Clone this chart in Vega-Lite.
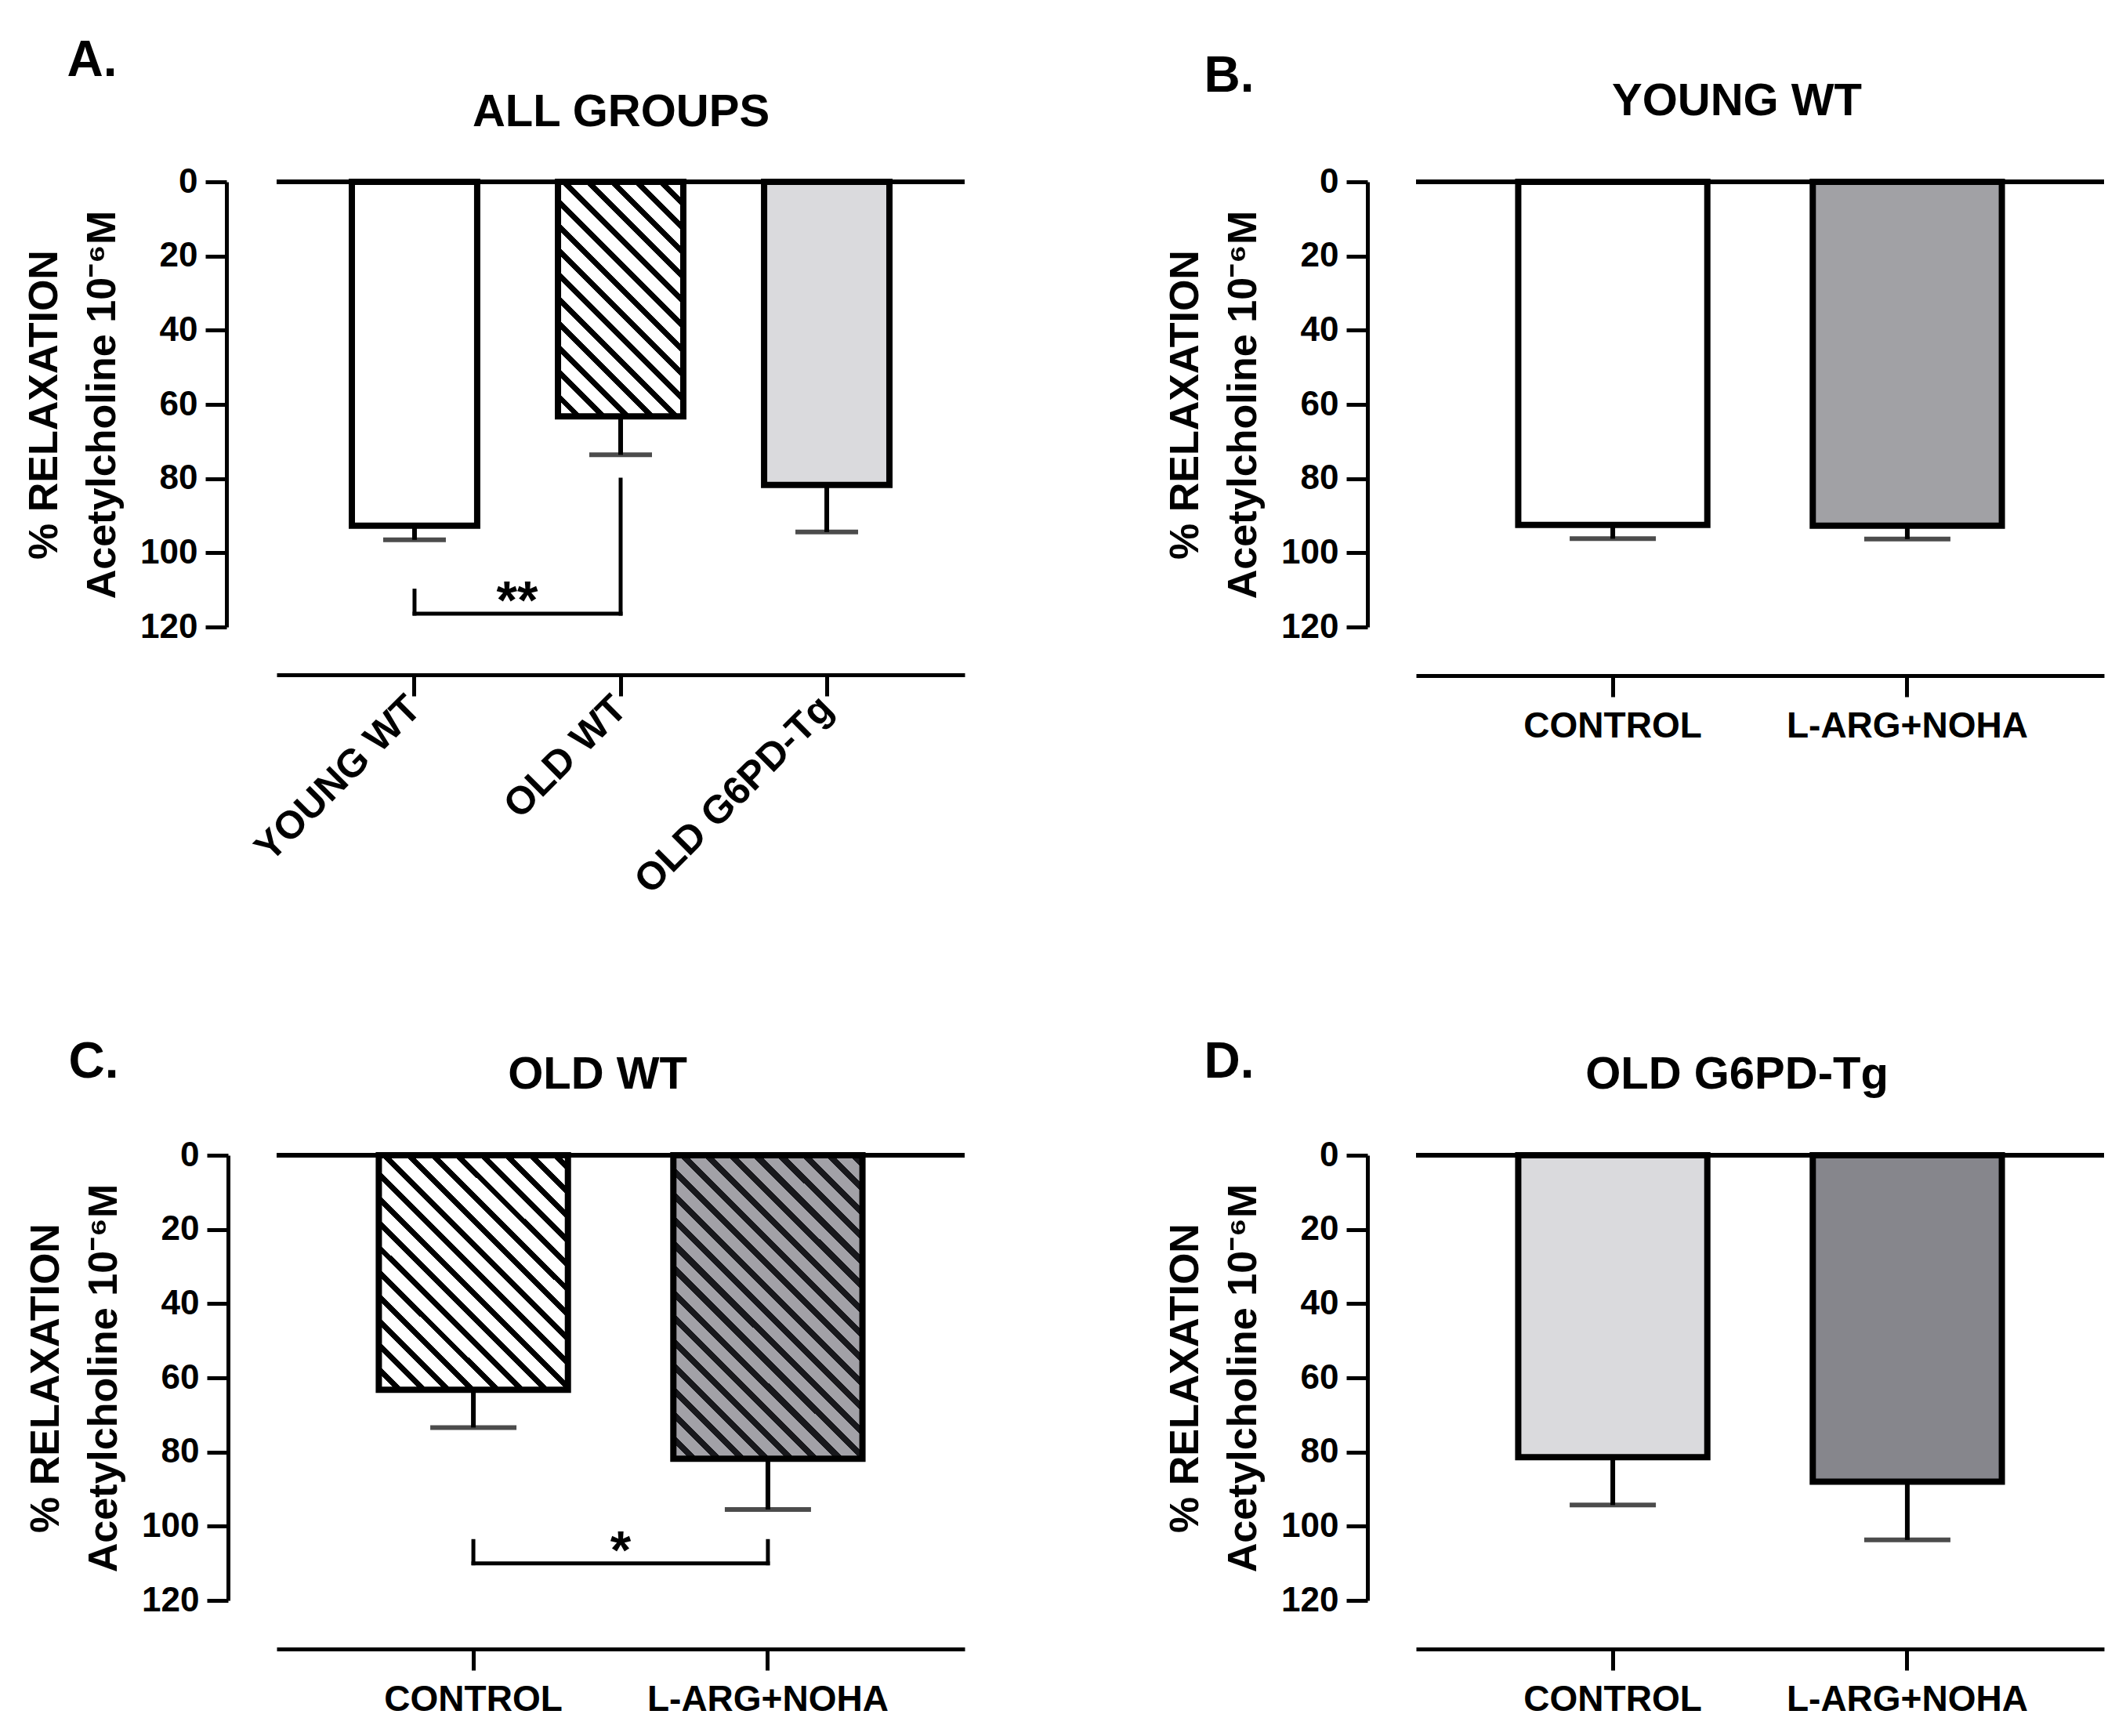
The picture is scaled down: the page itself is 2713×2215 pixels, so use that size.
{
  "$schema": "https://vega.github.io/schema/vega-lite/v6.json",
  "padding": {"left": 30, "top": 46, "right": 20, "bottom": 20},
  "background": "white",
  "datasets": {
    "bars": [
      {"panel": "A", "group": "YOUNG WT", "mean": 92.7, "hi": 96.5},
      {"panel": "A", "group": "OLD WT", "mean": 63.2, "hi": 73.6},
      {"panel": "A", "group": "OLD G6PD-Tg", "mean": 81.7, "hi": 94.4},
      {"panel": "B", "group": "CONTROL", "mean": 92.5, "hi": 96.2},
      {"panel": "B", "group": "L-ARG+NOHA", "mean": 92.7, "hi": 96.3},
      {"panel": "C", "group": "CONTROL", "mean": 63.2, "hi": 73.4},
      {"panel": "C", "group": "L-ARG+NOHA", "mean": 81.8, "hi": 95.5},
      {"panel": "D", "group": "CONTROL", "mean": 81.4, "hi": 94.3},
      {"panel": "D", "group": "L-ARG+NOHA", "mean": 88.0, "hi": 103.7}
    ],
    "brackets": [
      {"panel": "A", "from": "YOUNG WT", "to": "YOUNG WT", "y": 110.2, "y2": 116.4},
      {"panel": "A", "from": "YOUNG WT", "to": "OLD WT", "y": 116.4, "y2": 116.4},
      {"panel": "A", "from": "OLD WT", "to": "OLD WT", "y": 80.3, "y2": 116.4},
      {"panel": "C", "from": "CONTROL", "to": "CONTROL", "y": 104, "y2": 110},
      {"panel": "C", "from": "CONTROL", "to": "L-ARG+NOHA", "y": 110, "y2": 110},
      {"panel": "C", "from": "L-ARG+NOHA", "to": "L-ARG+NOHA", "y": 104, "y2": 110}
    ],
    "stars": [
      {"panel": "A", "group": "YOUNG WT", "y": 116.4, "label": "**"},
      {"panel": "C", "group": "CONTROL", "y": 110, "label": "*"}
    ],
    "baseline": [{"level": 0}]
  },
  "columns": 2,
  "bounds": "flush",
  "spacing": {"row": 674, "column": 576},
  "resolve": {"scale": {"x": "independent", "y": "independent"}},
  "concat": [
    {
      "width": 878,
      "height": 568,
      "title": {"text": "A.", "anchor": "start", "frame": "bounds", "dx": 55, "offset": -47, "baseline": "alphabetic"},
      "resolve": {"axis": {"x": "independent"}},
      "layer": [
        {
          "data": {"name": "bars"},
          "transform": [{"filter": "datum.panel === 'A'"}],
          "mark": {"type": "bar", "stroke": "#000", "strokeWidth": 8},
          "encoding": {
            "x": {"field": "group", "type": "nominal", "sort": null,
                  "scale": {"domain": ["YOUNG WT", "OLD WT", "OLD G6PD-Tg"], "paddingInner": 0.392, "paddingOuter": 0.365},
                  "axis": {"orient": "bottom", "title": null, "offset": 61, "labelAngle": -45, "labelAlign": "right", "labelBaseline": "middle", "labelFontSize": 50, "labelPadding": 8}},
            "y": {"field": "mean", "type": "quantitative",
                  "scale": {"domain": [0, 120], "reverse": true, "nice": false},
                  "axis": {"values": [0, 20, 40, 60, 80, 100, 120], "offset": 64, "title": ["% RELAXATION", "Acetylcholine 10⁻⁶M"], "titleLineHeight": 74, "titlePadding": 21}},
            "y2": {"datum": 0},
            "fill": {
              "condition": [
                {"test": "datum.group === 'OLD WT'", "value": {"gradient": "linear", "x1": 0, "y1": 1, "x2": 0.9086, "y2": -0.6986, "stops": [
                  {"offset": 0, "color": "#fff"},
                  {"offset": 0.0324, "color": "#fff"}, {"offset": 0.0324, "color": "#000"}, {"offset": 0.0476, "color": "#000"}, {"offset": 0.0476, "color": "#fff"},
                  {"offset": 0.08, "color": "#fff"}, {"offset": 0.08, "color": "#000"}, {"offset": 0.0952, "color": "#000"}, {"offset": 0.0952, "color": "#fff"},
                  {"offset": 0.1276, "color": "#fff"}, {"offset": 0.1276, "color": "#000"}, {"offset": 0.1429, "color": "#000"}, {"offset": 0.1429, "color": "#fff"},
                  {"offset": 0.1753, "color": "#fff"}, {"offset": 0.1753, "color": "#000"}, {"offset": 0.1905, "color": "#000"}, {"offset": 0.1905, "color": "#fff"},
                  {"offset": 0.2229, "color": "#fff"}, {"offset": 0.2229, "color": "#000"}, {"offset": 0.2381, "color": "#000"}, {"offset": 0.2381, "color": "#fff"},
                  {"offset": 0.2705, "color": "#fff"}, {"offset": 0.2705, "color": "#000"}, {"offset": 0.2857, "color": "#000"}, {"offset": 0.2857, "color": "#fff"},
                  {"offset": 0.3181, "color": "#fff"}, {"offset": 0.3181, "color": "#000"}, {"offset": 0.3333, "color": "#000"}, {"offset": 0.3333, "color": "#fff"},
                  {"offset": 0.3657, "color": "#fff"}, {"offset": 0.3657, "color": "#000"}, {"offset": 0.381, "color": "#000"}, {"offset": 0.381, "color": "#fff"},
                  {"offset": 0.4133, "color": "#fff"}, {"offset": 0.4133, "color": "#000"}, {"offset": 0.4286, "color": "#000"}, {"offset": 0.4286, "color": "#fff"},
                  {"offset": 0.461, "color": "#fff"}, {"offset": 0.461, "color": "#000"}, {"offset": 0.4762, "color": "#000"}, {"offset": 0.4762, "color": "#fff"},
                  {"offset": 0.5086, "color": "#fff"}, {"offset": 0.5086, "color": "#000"}, {"offset": 0.5238, "color": "#000"}, {"offset": 0.5238, "color": "#fff"},
                  {"offset": 0.5562, "color": "#fff"}, {"offset": 0.5562, "color": "#000"}, {"offset": 0.5714, "color": "#000"}, {"offset": 0.5714, "color": "#fff"},
                  {"offset": 0.6038, "color": "#fff"}, {"offset": 0.6038, "color": "#000"}, {"offset": 0.619, "color": "#000"}, {"offset": 0.619, "color": "#fff"},
                  {"offset": 0.6514, "color": "#fff"}, {"offset": 0.6514, "color": "#000"}, {"offset": 0.6667, "color": "#000"}, {"offset": 0.6667, "color": "#fff"},
                  {"offset": 0.699, "color": "#fff"}, {"offset": 0.699, "color": "#000"}, {"offset": 0.7143, "color": "#000"}, {"offset": 0.7143, "color": "#fff"},
                  {"offset": 0.7467, "color": "#fff"}, {"offset": 0.7467, "color": "#000"}, {"offset": 0.7619, "color": "#000"}, {"offset": 0.7619, "color": "#fff"},
                  {"offset": 0.7943, "color": "#fff"}, {"offset": 0.7943, "color": "#000"}, {"offset": 0.8095, "color": "#000"}, {"offset": 0.8095, "color": "#fff"},
                  {"offset": 0.8419, "color": "#fff"}, {"offset": 0.8419, "color": "#000"}, {"offset": 0.8571, "color": "#000"}, {"offset": 0.8571, "color": "#fff"},
                  {"offset": 0.8895, "color": "#fff"}, {"offset": 0.8895, "color": "#000"}, {"offset": 0.9048, "color": "#000"}, {"offset": 0.9048, "color": "#fff"},
                  {"offset": 0.9371, "color": "#fff"}, {"offset": 0.9371, "color": "#000"}, {"offset": 0.9524, "color": "#000"}, {"offset": 0.9524, "color": "#fff"},
                  {"offset": 0.9848, "color": "#fff"}, {"offset": 0.9848, "color": "#000"}, {"offset": 1, "color": "#000"}
                ]}},
                {"test": "datum.group === 'OLD G6PD-Tg'", "value": "#dadadd"}
              ],
              "value": "#ffffff"
            }
          }
        },
        {
          "data": {"name": "bars"},
          "transform": [{"filter": "datum.panel === 'A'"}],
          "mark": {"type": "rule", "color": "#000", "strokeWidth": 6},
          "encoding": {
            "x": {"field": "group", "type": "nominal", "sort": null,
                  "axis": {"orient": "top", "domain": false, "ticks": false, "labels": false, "title": "ALL GROUPS", "titleFontSize": 58, "titlePadding": 72, "titleBaseline": "alphabetic"}},
            "y": {"field": "mean", "type": "quantitative"},
            "y2": {"field": "hi"}
          }
        },
        {
          "data": {"name": "bars"},
          "transform": [{"filter": "datum.panel === 'A'"}],
          "mark": {"type": "tick", "color": "#000", "thickness": 6, "size": 80},
          "encoding": {
            "x": {"field": "group", "type": "nominal", "sort": null, "axis": null},
            "y": {"field": "hi", "type": "quantitative"}
          }
        },
        {
          "data": {"name": "baseline"},
          "mark": {"type": "rule", "color": "#000", "strokeWidth": 6},
          "encoding": {"y": {"field": "level", "type": "quantitative"}}
        },
        {
          "data": {"name": "brackets"},
          "transform": [{"filter": "datum.panel === 'A'"}],
          "mark": {"type": "rule", "color": "#000", "strokeWidth": 5, "strokeCap": "square"},
          "encoding": {
            "x": {"field": "from", "type": "nominal", "sort": null, "axis": null},
            "x2": {"field": "to"},
            "y": {"field": "y", "type": "quantitative"},
            "y2": {"field": "y2"}
          }
        },
        {
          "data": {"name": "stars"},
          "transform": [{"filter": "datum.panel === 'A'"}],
          "mark": {"type": "text", "fontSize": 68, "fontWeight": "bold", "baseline": "alphabetic", "dx": 131, "dy": 6, "color": "#000"},
          "encoding": {
            "x": {"field": "group", "type": "nominal", "sort": null, "axis": null},
            "y": {"field": "y", "type": "quantitative"},
            "text": {"field": "label"}
          }
        }
      ]
    },
    {
      "width": 878,
      "height": 568,
      "title": {"text": "B.", "anchor": "start", "frame": "bounds", "dx": 50, "offset": -81, "baseline": "alphabetic"},
      "resolve": {"axis": {"x": "independent"}},
      "layer": [
        {
          "data": {"name": "bars"},
          "transform": [{"filter": "datum.panel === 'B'"}],
          "mark": {"type": "bar", "stroke": "#000", "strokeWidth": 8},
          "encoding": {
            "x": {"field": "group", "type": "nominal", "sort": null,
                  "scale": {"domain": ["CONTROL", "L-ARG+NOHA"], "paddingInner": 0.358, "paddingOuter": 0.347},
                  "axis": {"orient": "bottom", "title": null, "offset": 62, "labelAngle": 0, "labelFontSize": 46, "labelPadding": 15}},
            "y": {"field": "mean", "type": "quantitative",
                  "scale": {"domain": [0, 120], "reverse": true, "nice": false},
                  "axis": {"values": [0, 20, 40, 60, 80, 100, 120], "offset": 62, "title": ["% RELAXATION", "Acetylcholine 10⁻⁶M"], "titleLineHeight": 74, "titlePadding": 21}},
            "y2": {"datum": 0},
            "fill": {
              "condition": [{"test": "datum.group === 'L-ARG+NOHA'", "value": "#a1a1a5"}],
              "value": "#ffffff"
            }
          }
        },
        {
          "data": {"name": "bars"},
          "transform": [{"filter": "datum.panel === 'B'"}],
          "mark": {"type": "rule", "color": "#000", "strokeWidth": 6},
          "encoding": {
            "x": {"field": "group", "type": "nominal", "sort": null,
                  "axis": {"orient": "top", "domain": false, "ticks": false, "labels": false, "title": "YOUNG WT", "titleFontSize": 58, "titlePadding": 86, "titleBaseline": "alphabetic", "titleX": 409}},
            "y": {"field": "mean", "type": "quantitative"},
            "y2": {"field": "hi"}
          }
        },
        {
          "data": {"name": "bars"},
          "transform": [{"filter": "datum.panel === 'B'"}],
          "mark": {"type": "tick", "color": "#000", "thickness": 6, "size": 110},
          "encoding": {
            "x": {"field": "group", "type": "nominal", "sort": null, "axis": null},
            "y": {"field": "hi", "type": "quantitative"}
          }
        },
        {
          "data": {"name": "baseline"},
          "mark": {"type": "rule", "color": "#000", "strokeWidth": 6},
          "encoding": {"y": {"field": "level", "type": "quantitative"}}
        }
      ]
    },
    {
      "width": 878,
      "height": 568,
      "title": {"text": "C.", "anchor": "start", "frame": "bounds", "dx": 55, "offset": -97, "baseline": "alphabetic"},
      "resolve": {"axis": {"x": "independent"}},
      "layer": [
        {
          "data": {"name": "bars"},
          "transform": [{"filter": "datum.panel === 'C'"}],
          "mark": {"type": "bar", "stroke": "#000", "strokeWidth": 8},
          "encoding": {
            "x": {"field": "group", "type": "nominal", "sort": null,
                  "scale": {"domain": ["CONTROL", "L-ARG+NOHA"], "paddingInner": 0.358, "paddingOuter": 0.347},
                  "axis": {"orient": "bottom", "title": null, "offset": 62, "labelAngle": 0, "labelFontSize": 46, "labelPadding": 15}},
            "y": {"field": "mean", "type": "quantitative",
                  "scale": {"domain": [0, 120], "reverse": true, "nice": false},
                  "axis": {"values": [0, 20, 40, 60, 80, 100, 120], "offset": 62, "title": ["% RELAXATION", "Acetylcholine 10⁻⁶M"], "titleLineHeight": 74, "titlePadding": 21}},
            "y2": {"datum": 0},
            "fill": {
              "condition": [
                {"test": "datum.group === 'CONTROL'", "value": {"gradient": "linear", "x1": 0, "y1": 1, "x2": 1.0673, "y2": -0.3246, "stops": [
                  {"offset": 0, "color": "#fff"},
                  {"offset": 0.0324, "color": "#fff"}, {"offset": 0.0324, "color": "#000"}, {"offset": 0.0476, "color": "#000"}, {"offset": 0.0476, "color": "#fff"},
                  {"offset": 0.08, "color": "#fff"}, {"offset": 0.08, "color": "#000"}, {"offset": 0.0952, "color": "#000"}, {"offset": 0.0952, "color": "#fff"},
                  {"offset": 0.1276, "color": "#fff"}, {"offset": 0.1276, "color": "#000"}, {"offset": 0.1429, "color": "#000"}, {"offset": 0.1429, "color": "#fff"},
                  {"offset": 0.1753, "color": "#fff"}, {"offset": 0.1753, "color": "#000"}, {"offset": 0.1905, "color": "#000"}, {"offset": 0.1905, "color": "#fff"},
                  {"offset": 0.2229, "color": "#fff"}, {"offset": 0.2229, "color": "#000"}, {"offset": 0.2381, "color": "#000"}, {"offset": 0.2381, "color": "#fff"},
                  {"offset": 0.2705, "color": "#fff"}, {"offset": 0.2705, "color": "#000"}, {"offset": 0.2857, "color": "#000"}, {"offset": 0.2857, "color": "#fff"},
                  {"offset": 0.3181, "color": "#fff"}, {"offset": 0.3181, "color": "#000"}, {"offset": 0.3333, "color": "#000"}, {"offset": 0.3333, "color": "#fff"},
                  {"offset": 0.3657, "color": "#fff"}, {"offset": 0.3657, "color": "#000"}, {"offset": 0.381, "color": "#000"}, {"offset": 0.381, "color": "#fff"},
                  {"offset": 0.4133, "color": "#fff"}, {"offset": 0.4133, "color": "#000"}, {"offset": 0.4286, "color": "#000"}, {"offset": 0.4286, "color": "#fff"},
                  {"offset": 0.461, "color": "#fff"}, {"offset": 0.461, "color": "#000"}, {"offset": 0.4762, "color": "#000"}, {"offset": 0.4762, "color": "#fff"},
                  {"offset": 0.5086, "color": "#fff"}, {"offset": 0.5086, "color": "#000"}, {"offset": 0.5238, "color": "#000"}, {"offset": 0.5238, "color": "#fff"},
                  {"offset": 0.5562, "color": "#fff"}, {"offset": 0.5562, "color": "#000"}, {"offset": 0.5714, "color": "#000"}, {"offset": 0.5714, "color": "#fff"},
                  {"offset": 0.6038, "color": "#fff"}, {"offset": 0.6038, "color": "#000"}, {"offset": 0.619, "color": "#000"}, {"offset": 0.619, "color": "#fff"},
                  {"offset": 0.6514, "color": "#fff"}, {"offset": 0.6514, "color": "#000"}, {"offset": 0.6667, "color": "#000"}, {"offset": 0.6667, "color": "#fff"},
                  {"offset": 0.699, "color": "#fff"}, {"offset": 0.699, "color": "#000"}, {"offset": 0.7143, "color": "#000"}, {"offset": 0.7143, "color": "#fff"},
                  {"offset": 0.7467, "color": "#fff"}, {"offset": 0.7467, "color": "#000"}, {"offset": 0.7619, "color": "#000"}, {"offset": 0.7619, "color": "#fff"},
                  {"offset": 0.7943, "color": "#fff"}, {"offset": 0.7943, "color": "#000"}, {"offset": 0.8095, "color": "#000"}, {"offset": 0.8095, "color": "#fff"},
                  {"offset": 0.8419, "color": "#fff"}, {"offset": 0.8419, "color": "#000"}, {"offset": 0.8571, "color": "#000"}, {"offset": 0.8571, "color": "#fff"},
                  {"offset": 0.8895, "color": "#fff"}, {"offset": 0.8895, "color": "#000"}, {"offset": 0.9048, "color": "#000"}, {"offset": 0.9048, "color": "#fff"},
                  {"offset": 0.9371, "color": "#fff"}, {"offset": 0.9371, "color": "#000"}, {"offset": 0.9524, "color": "#000"}, {"offset": 0.9524, "color": "#fff"},
                  {"offset": 0.9848, "color": "#fff"}, {"offset": 0.9848, "color": "#000"}, {"offset": 1, "color": "#000"}
                ]}},
                {"test": "datum.group === 'L-ARG+NOHA'", "value": {"gradient": "linear", "x1": 0, "y1": 1, "x2": 0.757, "y2": -0.2162, "stops": [
                  {"offset": 0, "color": "#a2a1a7"},
                  {"offset": 0.0305, "color": "#a2a1a7"}, {"offset": 0.0305, "color": "#18181c"}, {"offset": 0.0476, "color": "#18181c"}, {"offset": 0.0476, "color": "#a2a1a7"},
                  {"offset": 0.0781, "color": "#a2a1a7"}, {"offset": 0.0781, "color": "#18181c"}, {"offset": 0.0952, "color": "#18181c"}, {"offset": 0.0952, "color": "#a2a1a7"},
                  {"offset": 0.1257, "color": "#a2a1a7"}, {"offset": 0.1257, "color": "#18181c"}, {"offset": 0.1429, "color": "#18181c"}, {"offset": 0.1429, "color": "#a2a1a7"},
                  {"offset": 0.1733, "color": "#a2a1a7"}, {"offset": 0.1733, "color": "#18181c"}, {"offset": 0.1905, "color": "#18181c"}, {"offset": 0.1905, "color": "#a2a1a7"},
                  {"offset": 0.221, "color": "#a2a1a7"}, {"offset": 0.221, "color": "#18181c"}, {"offset": 0.2381, "color": "#18181c"}, {"offset": 0.2381, "color": "#a2a1a7"},
                  {"offset": 0.2686, "color": "#a2a1a7"}, {"offset": 0.2686, "color": "#18181c"}, {"offset": 0.2857, "color": "#18181c"}, {"offset": 0.2857, "color": "#a2a1a7"},
                  {"offset": 0.3162, "color": "#a2a1a7"}, {"offset": 0.3162, "color": "#18181c"}, {"offset": 0.3333, "color": "#18181c"}, {"offset": 0.3333, "color": "#a2a1a7"},
                  {"offset": 0.3638, "color": "#a2a1a7"}, {"offset": 0.3638, "color": "#18181c"}, {"offset": 0.381, "color": "#18181c"}, {"offset": 0.381, "color": "#a2a1a7"},
                  {"offset": 0.4114, "color": "#a2a1a7"}, {"offset": 0.4114, "color": "#18181c"}, {"offset": 0.4286, "color": "#18181c"}, {"offset": 0.4286, "color": "#a2a1a7"},
                  {"offset": 0.4591, "color": "#a2a1a7"}, {"offset": 0.4591, "color": "#18181c"}, {"offset": 0.4762, "color": "#18181c"}, {"offset": 0.4762, "color": "#a2a1a7"},
                  {"offset": 0.5067, "color": "#a2a1a7"}, {"offset": 0.5067, "color": "#18181c"}, {"offset": 0.5238, "color": "#18181c"}, {"offset": 0.5238, "color": "#a2a1a7"},
                  {"offset": 0.5543, "color": "#a2a1a7"}, {"offset": 0.5543, "color": "#18181c"}, {"offset": 0.5714, "color": "#18181c"}, {"offset": 0.5714, "color": "#a2a1a7"},
                  {"offset": 0.6019, "color": "#a2a1a7"}, {"offset": 0.6019, "color": "#18181c"}, {"offset": 0.619, "color": "#18181c"}, {"offset": 0.619, "color": "#a2a1a7"},
                  {"offset": 0.6495, "color": "#a2a1a7"}, {"offset": 0.6495, "color": "#18181c"}, {"offset": 0.6667, "color": "#18181c"}, {"offset": 0.6667, "color": "#a2a1a7"},
                  {"offset": 0.6971, "color": "#a2a1a7"}, {"offset": 0.6971, "color": "#18181c"}, {"offset": 0.7143, "color": "#18181c"}, {"offset": 0.7143, "color": "#a2a1a7"},
                  {"offset": 0.7448, "color": "#a2a1a7"}, {"offset": 0.7448, "color": "#18181c"}, {"offset": 0.7619, "color": "#18181c"}, {"offset": 0.7619, "color": "#a2a1a7"},
                  {"offset": 0.7924, "color": "#a2a1a7"}, {"offset": 0.7924, "color": "#18181c"}, {"offset": 0.8095, "color": "#18181c"}, {"offset": 0.8095, "color": "#a2a1a7"},
                  {"offset": 0.84, "color": "#a2a1a7"}, {"offset": 0.84, "color": "#18181c"}, {"offset": 0.8571, "color": "#18181c"}, {"offset": 0.8571, "color": "#a2a1a7"},
                  {"offset": 0.8876, "color": "#a2a1a7"}, {"offset": 0.8876, "color": "#18181c"}, {"offset": 0.9048, "color": "#18181c"}, {"offset": 0.9048, "color": "#a2a1a7"},
                  {"offset": 0.9352, "color": "#a2a1a7"}, {"offset": 0.9352, "color": "#18181c"}, {"offset": 0.9524, "color": "#18181c"}, {"offset": 0.9524, "color": "#a2a1a7"},
                  {"offset": 0.9829, "color": "#a2a1a7"}, {"offset": 0.9829, "color": "#18181c"}, {"offset": 1, "color": "#18181c"}
                ]}}
              ],
              "value": "#ffffff"
            }
          }
        },
        {
          "data": {"name": "bars"},
          "transform": [{"filter": "datum.panel === 'C'"}],
          "mark": {"type": "rule", "color": "#000", "strokeWidth": 6},
          "encoding": {
            "x": {"field": "group", "type": "nominal", "sort": null,
                  "axis": {"orient": "top", "domain": false, "ticks": false, "labels": false, "title": "OLD WT", "titleFontSize": 58, "titlePadding": 86, "titleBaseline": "alphabetic", "titleX": 409}},
            "y": {"field": "mean", "type": "quantitative"},
            "y2": {"field": "hi"}
          }
        },
        {
          "data": {"name": "bars"},
          "transform": [{"filter": "datum.panel === 'C'"}],
          "mark": {"type": "tick", "color": "#000", "thickness": 6, "size": 110},
          "encoding": {
            "x": {"field": "group", "type": "nominal", "sort": null, "axis": null},
            "y": {"field": "hi", "type": "quantitative"}
          }
        },
        {
          "data": {"name": "baseline"},
          "mark": {"type": "rule", "color": "#000", "strokeWidth": 6},
          "encoding": {"y": {"field": "level", "type": "quantitative"}}
        },
        {
          "data": {"name": "brackets"},
          "transform": [{"filter": "datum.panel === 'C'"}],
          "mark": {"type": "rule", "color": "#000", "strokeWidth": 5, "strokeCap": "square"},
          "encoding": {
            "x": {"field": "from", "type": "nominal", "sort": null, "axis": null},
            "x2": {"field": "to"},
            "y": {"field": "y", "type": "quantitative"},
            "y2": {"field": "y2"}
          }
        },
        {
          "data": {"name": "stars"},
          "transform": [{"filter": "datum.panel === 'C'"}],
          "mark": {"type": "text", "fontSize": 68, "fontWeight": "bold", "baseline": "alphabetic", "dx": 188, "dy": 6, "color": "#000"},
          "encoding": {
            "x": {"field": "group", "type": "nominal", "sort": null, "axis": null},
            "y": {"field": "y", "type": "quantitative"},
            "text": {"field": "label"}
          }
        }
      ]
    },
    {
      "width": 878,
      "height": 568,
      "title": {"text": "D.", "anchor": "start", "frame": "bounds", "dx": 50, "offset": -97, "baseline": "alphabetic"},
      "resolve": {"axis": {"x": "independent"}},
      "layer": [
        {
          "data": {"name": "bars"},
          "transform": [{"filter": "datum.panel === 'D'"}],
          "mark": {"type": "bar", "stroke": "#000", "strokeWidth": 8},
          "encoding": {
            "x": {"field": "group", "type": "nominal", "sort": null,
                  "scale": {"domain": ["CONTROL", "L-ARG+NOHA"], "paddingInner": 0.358, "paddingOuter": 0.347},
                  "axis": {"orient": "bottom", "title": null, "offset": 62, "labelAngle": 0, "labelFontSize": 46, "labelPadding": 15}},
            "y": {"field": "mean", "type": "quantitative",
                  "scale": {"domain": [0, 120], "reverse": true, "nice": false},
                  "axis": {"values": [0, 20, 40, 60, 80, 100, 120], "offset": 62, "title": ["% RELAXATION", "Acetylcholine 10⁻⁶M"], "titleLineHeight": 74, "titlePadding": 21}},
            "y2": {"datum": 0},
            "fill": {
              "condition": [{"test": "datum.group === 'L-ARG+NOHA'", "value": "#86868c"}],
              "value": "#dadadd"
            }
          }
        },
        {
          "data": {"name": "bars"},
          "transform": [{"filter": "datum.panel === 'D'"}],
          "mark": {"type": "rule", "color": "#000", "strokeWidth": 6},
          "encoding": {
            "x": {"field": "group", "type": "nominal", "sort": null,
                  "axis": {"orient": "top", "domain": false, "ticks": false, "labels": false, "title": "OLD G6PD-Tg", "titleFontSize": 58, "titlePadding": 86, "titleBaseline": "alphabetic", "titleX": 409}},
            "y": {"field": "mean", "type": "quantitative"},
            "y2": {"field": "hi"}
          }
        },
        {
          "data": {"name": "bars"},
          "transform": [{"filter": "datum.panel === 'D'"}],
          "mark": {"type": "tick", "color": "#000", "thickness": 6, "size": 110},
          "encoding": {
            "x": {"field": "group", "type": "nominal", "sort": null, "axis": null},
            "y": {"field": "hi", "type": "quantitative"}
          }
        },
        {
          "data": {"name": "baseline"},
          "mark": {"type": "rule", "color": "#000", "strokeWidth": 6},
          "encoding": {"y": {"field": "level", "type": "quantitative"}}
        }
      ]
    }
  ],
  "config": {
    "view": {"stroke": null},
    "font": "Liberation Sans",
    "axis": {
      "grid": false,
      "domainColor": "#000",
      "domainWidth": 5,
      "tickColor": "#000",
      "tickWidth": 5,
      "tickSize": 27,
      "labelFont": "Liberation Sans",
      "labelFontSize": 44,
      "labelFontWeight": "bold",
      "labelColor": "#000",
      "labelPadding": 10,
      "labelLimit": 0,
      "titleFont": "Liberation Sans",
      "titleFontSize": 52,
      "titleFontWeight": "bold",
      "titleColor": "#000"
    },
    "title": {"font": "Liberation Sans", "fontSize": 64, "fontWeight": "bold", "color": "#000"}
  }
}
